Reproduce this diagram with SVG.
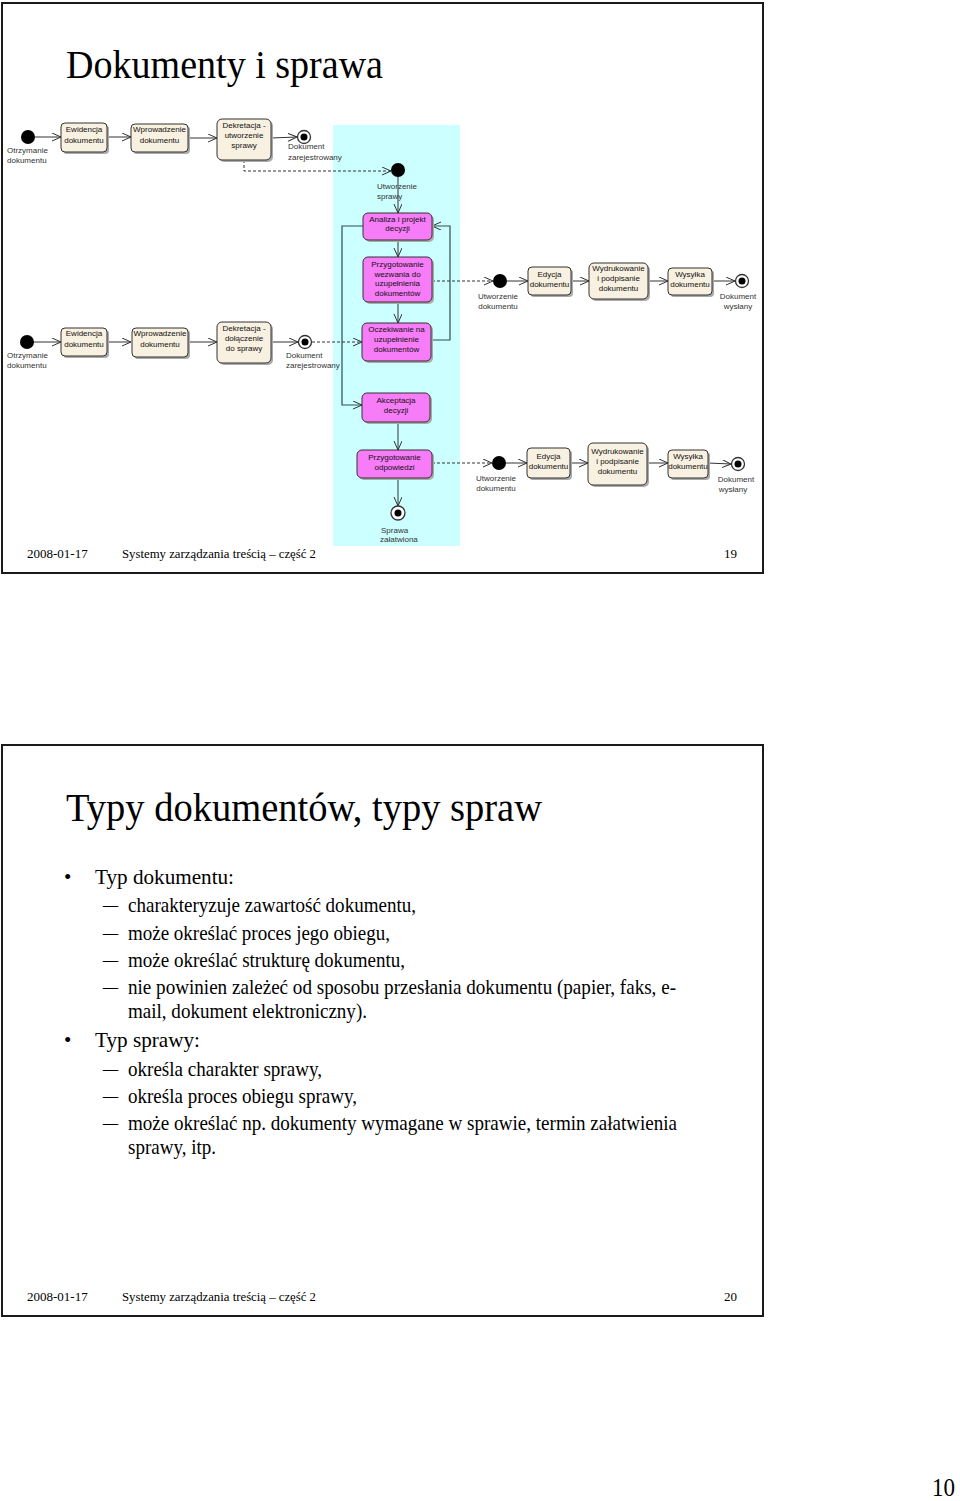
<svg xmlns="http://www.w3.org/2000/svg" width="960" height="1501" viewBox="0 0 960 1501">
<style>
.frame{fill:#fff;stroke:#1a1a1a;stroke-width:2}
.ttl{font-family:"Liberation Serif","Times New Roman",serif;font-size:41px;fill:#000}
.foot{font-family:"Liberation Serif","Times New Roman",serif;font-size:13px;fill:#000}
.body{font-family:"Liberation Serif","Times New Roman",serif;font-size:21px;fill:#000}
.act{fill:#f8f0e0;stroke:#333;stroke-width:1}
.mag{fill:#f77cf7;stroke:#333;stroke-width:1}
.shd{fill:#aaa}
.nt{font-family:"Liberation Sans",Arial,sans-serif;font-size:8px;fill:#111;text-anchor:middle}
.lb{font-family:"Liberation Sans",Arial,sans-serif;font-size:8px;fill:#333}
.lbm{font-family:"Liberation Sans",Arial,sans-serif;font-size:8px;fill:#333;text-anchor:middle}
.ln{fill:none;stroke:#333;stroke-width:1;marker-end:url(#oa)}
.dl{fill:none;stroke:#333;stroke-width:1;stroke-dasharray:3,2;marker-end:url(#oa)}
.lp{fill:none;stroke:#2f4f4f;stroke-width:1.2;marker-end:url(#oa)}
</style>
<defs>
<marker id="oa" markerWidth="10" markerHeight="10" refX="9" refY="4" orient="auto" markerUnits="userSpaceOnUse">
<path d="M0,0 L9,4 L0,8" fill="none" stroke="#333" stroke-width="1"/>
</marker>
</defs>
<rect width="960" height="1501" fill="#fff"/>
<!-- slide 1 frame -->
<rect class="frame" x="2" y="3" width="761" height="570"/>
<text class="ttl" x="66" y="78" textLength="317" lengthAdjust="spacingAndGlyphs">Dokumenty i sprawa</text>
<rect x="333" y="125" width="127" height="421" fill="#ccffff"/>
<!-- connectors -->
<g id="connectors">
<path class="ln" d="M35,137 L61,137"/>
<path class="ln" d="M107,137 L131,137"/>
<path class="ln" d="M188,138 L217,138"/>
<path class="ln" d="M271,138 L297,137"/>
<path class="dl" d="M244,160 L244,171 L391,171"/>
<path class="ln" d="M398,177 L398,213"/>
<path class="ln" d="M398,240 L398,257"/>
<path class="ln" d="M398,302 L398,323"/>
<path class="lp" d="M431,340 L450,340 L450,226 L432,226"/>
<path class="lp" d="M363,226 L342,226 L342,405 L362,405"/>
<path class="dl" d="M432,281 L493,281"/>
<path class="ln" d="M507,281 L528,281"/>
<path class="ln" d="M571,281 L589,281"/>
<path class="ln" d="M648,281 L668,281"/>
<path class="ln" d="M712,281 L735,281"/>
<path class="ln" d="M34,342 L61,342"/>
<path class="ln" d="M107,342 L131,342"/>
<path class="ln" d="M188,342 L217,342"/>
<path class="ln" d="M271,342 L298,342"/>
<path class="dl" d="M312,342 L362,342"/>
<path class="ln" d="M398,422 L398,450"/>
<path class="ln" d="M398,478 L398,506"/>
<path class="dl" d="M432,463 L492,463"/>
<path class="ln" d="M506,463 L527,463"/>
<path class="ln" d="M570,463 L588,463"/>
<path class="ln" d="M647,463 L668,463"/>
<path class="ln" d="M708,463 L731,464"/>
</g>
<!-- row 1 -->
<g id="start1"><circle cx="28" cy="137" r="7" fill="#000"/><text class="lb" x="7" y="153">Otrzymanie</text><text class="lb" x="7" y="163">dokumentu</text></g>
<g id="ewid1"><rect class="shd" x="63" y="125" width="46" height="29" rx="4"/><rect class="act" x="61" y="123" width="46" height="29" rx="4"/><text class="nt" x="84" y="132">Ewidencja</text><text class="nt" x="84" y="143">dokumentu</text></g>
<g id="wpr1"><rect class="shd" x="133" y="126" width="57" height="28" rx="4"/><rect class="act" x="131" y="124" width="57" height="28" rx="4"/><text class="nt" x="159.5" y="132">Wprowadzenie</text><text class="nt" x="159.5" y="143">dokumentu</text></g>
<g id="dek1"><rect class="shd" x="219" y="121" width="54" height="41" rx="5"/><rect class="act" x="217" y="119" width="54" height="41" rx="5"/><text class="nt" x="244" y="128">Dekretacja -</text><text class="nt" x="244" y="138">utworzenie</text><text class="nt" x="244" y="148">sprawy</text></g>
<g id="end1"><circle cx="304" cy="137" r="6.5" fill="#fff" stroke="#333" stroke-width="1.3"/><circle cx="304" cy="137" r="3.5" fill="#000"/><text class="lb" x="288" y="149">Dokument</text><text class="lb" x="288" y="160">zarejestrowany</text></g>
<g id="startS"><circle cx="398" cy="170" r="7" fill="#000"/><text class="lb" x="377" y="189">Utworzenie</text><text class="lb" x="377" y="199">sprawy</text></g>
<g id="analiza"><rect class="shd" x="365" y="215" width="69" height="27" rx="5"/><rect class="mag" x="363" y="213" width="69" height="27" rx="5"/><text class="nt" x="397.5" y="222">Analiza i projekt</text><text class="nt" x="397.5" y="231">decyzji</text></g>
<g id="wezw"><rect class="shd" x="365" y="259" width="69" height="45" rx="5"/><rect class="mag" x="363" y="257" width="69" height="45" rx="5"/><text class="nt" x="397.5" y="267">Przygotowanie</text><text class="nt" x="397.5" y="277">wezwania do</text><text class="nt" x="397.5" y="286">uzupełnienia</text><text class="nt" x="397.5" y="296">dokumentów</text></g>
<g id="oczek"><rect class="shd" x="364" y="325" width="69" height="38" rx="5"/><rect class="mag" x="362" y="323" width="69" height="38" rx="5"/><text class="nt" x="396.5" y="332">Oczekiwanie na</text><text class="nt" x="396.5" y="342">uzupełnienie</text><text class="nt" x="396.5" y="352">dokumentów</text></g>
<g id="akcept"><rect class="shd" x="364" y="395" width="68" height="29" rx="5"/><rect class="mag" x="362" y="393" width="68" height="29" rx="5"/><text class="nt" x="396" y="403">Akceptacja</text><text class="nt" x="396" y="413">decyzji</text></g>
<g id="odp"><rect class="shd" x="359" y="452" width="75" height="28" rx="5"/><rect class="mag" x="357" y="450" width="75" height="28" rx="5"/><text class="nt" x="394.5" y="460">Przygotowanie</text><text class="nt" x="394.5" y="470">odpowiedzi</text></g>
<g id="endS"><circle cx="398" cy="513" r="7" fill="#fff" stroke="#333" stroke-width="1.3"/><circle cx="398" cy="513" r="3.5" fill="#000"/><text class="lb" x="381" y="533">Sprawa</text><text class="lb" x="380" y="542">załatwiona</text></g>
<g id="startD1"><circle cx="500" cy="281" r="7" fill="#000"/><text class="lbm" x="498" y="299">Utworzenie</text><text class="lbm" x="498" y="309">dokumentu</text></g>
<g id="edy1"><rect class="shd" x="530" y="269" width="43" height="28" rx="4"/><rect class="act" x="528" y="267" width="43" height="28" rx="4"/><text class="nt" x="549.5" y="277">Edycja</text><text class="nt" x="549.5" y="287">dokumentu</text></g>
<g id="wyd1"><rect class="shd" x="591" y="265" width="59" height="36" rx="5"/><rect class="act" x="589" y="263" width="59" height="36" rx="5"/><text class="nt" x="618.5" y="271">Wydrukowanie</text><text class="nt" x="618.5" y="281">i podpisanie</text><text class="nt" x="618.5" y="291">dokumentu</text></g>
<g id="wys1"><rect class="shd" x="670" y="270" width="44" height="27" rx="4"/><rect class="act" x="668" y="268" width="44" height="27" rx="4"/><text class="nt" x="690" y="277">Wysyłka</text><text class="nt" x="690" y="287">dokumentu</text></g>
<g id="endD1"><circle cx="742" cy="281" r="6.5" fill="#fff" stroke="#333" stroke-width="1.3"/><circle cx="742" cy="281" r="3.5" fill="#000"/><text class="lbm" x="738" y="299">Dokument</text><text class="lbm" x="738" y="309">wysłany</text></g>
<!-- row 2 -->
<g id="start2"><circle cx="27" cy="342" r="7" fill="#000"/><text class="lb" x="7" y="358">Otrzymanie</text><text class="lb" x="7" y="368">dokumentu</text></g>
<g id="ewid2"><rect class="shd" x="63" y="330" width="46" height="28" rx="4"/><rect class="act" x="61" y="328" width="46" height="28" rx="4"/><text class="nt" x="84" y="336">Ewidencja</text><text class="nt" x="84" y="347">dokumentu</text></g>
<g id="wpr2"><rect class="shd" x="134" y="330" width="56" height="29" rx="4"/><rect class="act" x="132" y="328" width="56" height="29" rx="4"/><text class="nt" x="160" y="336">Wprowadzenie</text><text class="nt" x="160" y="347">dokumentu</text></g>
<g id="dek2"><rect class="shd" x="219" y="324" width="54" height="41" rx="5"/><rect class="act" x="217" y="322" width="54" height="41" rx="5"/><text class="nt" x="244" y="331">Dekretacja -</text><text class="nt" x="244" y="341">dołączenie</text><text class="nt" x="244" y="351">do sprawy</text></g>
<g id="end2"><circle cx="305" cy="342" r="6.5" fill="#fff" stroke="#333" stroke-width="1.3"/><circle cx="305" cy="342" r="3.5" fill="#000"/><text class="lb" x="286" y="358">Dokument</text><text class="lb" x="286" y="368">zarejestrowany</text></g>
<g id="startD2"><circle cx="499" cy="463" r="7" fill="#000"/><text class="lbm" x="496" y="481">Utworzenie</text><text class="lbm" x="496" y="491">dokumentu</text></g>
<g id="edy2"><rect class="shd" x="529" y="450" width="43" height="30" rx="4"/><rect class="act" x="527" y="448" width="43" height="30" rx="4"/><text class="nt" x="548.5" y="459">Edycja</text><text class="nt" x="548.5" y="469">dokumentu</text></g>
<g id="wyd2"><rect class="shd" x="590" y="445" width="59" height="42" rx="5"/><rect class="act" x="588" y="443" width="59" height="42" rx="5"/><text class="nt" x="617.5" y="454">Wydrukowanie</text><text class="nt" x="617.5" y="464">i podpisanie</text><text class="nt" x="617.5" y="474">dokumentu</text></g>
<g id="wys2"><rect class="shd" x="670" y="452" width="40" height="28" rx="4"/><rect class="act" x="668" y="450" width="40" height="28" rx="4"/><text class="nt" x="688" y="459">Wysyłka</text><text class="nt" x="688" y="469">dokumentu</text></g>
<g id="endD2"><circle cx="738" cy="464" r="6.5" fill="#fff" stroke="#333" stroke-width="1.3"/><circle cx="738" cy="464" r="3.5" fill="#000"/><text class="lbm" x="736" y="482">Dokument</text><text class="lbm" x="733" y="492">wysłany</text></g>
<!-- footer 1 -->
<text class="foot" x="27" y="558">2008-01-17</text>
<text class="foot" x="122" y="558" textLength="194" lengthAdjust="spacingAndGlyphs">Systemy zarządzania treścią – część 2</text>
<text class="foot" x="737" y="558" text-anchor="end">19</text>
<!-- slide 2 -->
<rect class="frame" x="2" y="745" width="761" height="571"/>
<text class="ttl" x="66" y="821" textLength="476" lengthAdjust="spacingAndGlyphs">Typy dokumentów, typy spraw</text>
<text class="body" x="64" y="884">•</text>
<text class="body" x="95" y="884" textLength="139" lengthAdjust="spacingAndGlyphs">Typ dokumentu:</text>
<text class="body" x="103" y="912" textLength="15" lengthAdjust="spacingAndGlyphs">–</text>
<text class="body" x="128" y="912" textLength="288" lengthAdjust="spacingAndGlyphs">charakteryzuje zawartość dokumentu,</text>
<text class="body" x="103" y="940" textLength="15" lengthAdjust="spacingAndGlyphs">–</text>
<text class="body" x="128" y="940" textLength="262" lengthAdjust="spacingAndGlyphs">może określać proces jego obiegu,</text>
<text class="body" x="103" y="967" textLength="15" lengthAdjust="spacingAndGlyphs">–</text>
<text class="body" x="128" y="967" textLength="277" lengthAdjust="spacingAndGlyphs">może określać strukturę dokumentu,</text>
<text class="body" x="103" y="994" textLength="15" lengthAdjust="spacingAndGlyphs">–</text>
<text class="body" x="128" y="994" textLength="548" lengthAdjust="spacingAndGlyphs">nie powinien zależeć od sposobu przesłania dokumentu (papier, faks, e-</text>
<text class="body" x="128" y="1018" textLength="239" lengthAdjust="spacingAndGlyphs">mail, dokument elektroniczny).</text>
<text class="body" x="64" y="1047">•</text>
<text class="body" x="95" y="1047" textLength="105" lengthAdjust="spacingAndGlyphs">Typ sprawy:</text>
<text class="body" x="103" y="1076" textLength="15" lengthAdjust="spacingAndGlyphs">–</text>
<text class="body" x="128" y="1076" textLength="194" lengthAdjust="spacingAndGlyphs">określa charakter sprawy,</text>
<text class="body" x="103" y="1103" textLength="15" lengthAdjust="spacingAndGlyphs">–</text>
<text class="body" x="128" y="1103" textLength="229" lengthAdjust="spacingAndGlyphs">określa proces obiegu sprawy,</text>
<text class="body" x="103" y="1130" textLength="15" lengthAdjust="spacingAndGlyphs">–</text>
<text class="body" x="128" y="1130" textLength="549" lengthAdjust="spacingAndGlyphs">może określać np. dokumenty wymagane w sprawie, termin załatwienia</text>
<text class="body" x="128" y="1154" textLength="88" lengthAdjust="spacingAndGlyphs">sprawy, itp.</text>
<text class="foot" x="27" y="1301">2008-01-17</text>
<text class="foot" x="122" y="1301" textLength="194" lengthAdjust="spacingAndGlyphs">Systemy zarządzania treścią – część 2</text>
<text class="foot" x="737" y="1301" text-anchor="end">20</text>
<text x="955" y="1496" text-anchor="end" font-family="Liberation Serif, Times New Roman, serif" font-size="26" textLength="23" lengthAdjust="spacingAndGlyphs">10</text>
</svg>
